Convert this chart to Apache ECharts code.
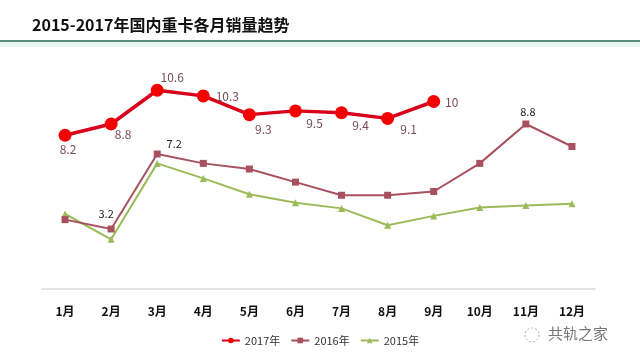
<!DOCTYPE html>
<html><head><meta charset="utf-8">
<script src="https://cdn.jsdelivr.net/npm/echarts@6/dist/echarts.min.js"></script>
<style>html,body{margin:0;padding:0;background:#fff}#c{width:640px;height:360px}</style>
</head><body><div id="c"></div>
<script>
const months = ['1月','2月','3月','4月','5月','6月','7月','8月','9月','10月','11月','12月'];
const s2017 = [8.2, 8.8, 10.6, 10.3, 9.3, 9.5, 9.4, 9.1, 10];
const s2016 = [3.7, 3.2, 7.2, 6.7, 6.4, 5.7, 5.0, 5.0, 5.2, 6.7, 8.8, 7.6];
const s2015 = [4.0, 2.65, 6.7, 5.9, 5.05, 4.6, 4.3, 3.4, 3.9, 4.35, 4.45, 4.55];
const labelOff2017 = [[3,14],[12,10],[15,-13],[24,1],[14,15],[19,13],[19,13],[21,11],[18,1]];
const labelOff2016 = {1:[-5,-15], 2:[17,-10], 10:[2,-12]};

const chart = echarts.init(document.getElementById('c'));
const font = '"Microsoft YaHei","Noto Sans CJK SC",sans-serif';

const d2017 = s2017.map((v,i)=>({value:v, label:{position:'inside', offset:labelOff2017[i]}}));
const d2016 = s2016.map((v,i)=>{
  if (!labelOff2016[i]) return {value:v, label:{show:false}};
  return {value:v, label:{show:true, position:'inside', offset:labelOff2016[i]}};
});

chart.setOption({
  animation:false,
  textStyle:{fontFamily:font},
  graphic:[
    {type:'text', left:32, top:17, style:{text:'2015-2017年国内重卡各月销量趋势', fontSize:16, fontWeight:'bold', fill:'#111', fontFamily:font}},
    {type:'rect', shape:{x:0,y:42,width:640,height:5}, style:{fill:'#eaf6f0'}},
    {type:'rect', shape:{x:0,y:40,width:640,height:2}, style:{fill:'#5e8c7c'}},
    {type:'text', left:548, top:326, style:{text:'共轨之家', fontSize:15, fill:'#777', fontFamily:font}},
    {type:'circle', shape:{cx:532, cy:335, r:7}, style:{fill:'none', stroke:'#aaa', lineWidth:1, lineDash:[2,2]}}
  ],
  legend:{
    bottom:9, left:'center', itemWidth:18, itemHeight:7, itemGap:10,
    textStyle:{fontSize:11, color:'#333', fontFamily:font},
    data:['2017年','2016年','2015年']
  },
  grid:{left:42, right:45, top:64, bottom:71},
  xAxis:{
    type:'category', data:months, boundaryGap:true,
    axisLine:{lineStyle:{color:'#d9d9d9', width:1.5}},
    axisTick:{show:false},
    axisLabel:{fontSize:12, fontWeight:'bold', color:'#111', margin:16}
  },
  yAxis:{type:'value', min:0, max:12, show:false, splitLine:{show:false}},
  series:[
    {name:'2017年', type:'line', data:d2017, symbol:'circle', symbolSize:13,
     lineStyle:{color:'#d9001b', width:3.5}, itemStyle:{color:'#f50000'},
     label:{show:true, fontSize:12, color:'#7a4a5c'}, z:5},
    {name:'2016年', type:'line', data:d2016, symbol:'rect', symbolSize:7,
     lineStyle:{color:'#a8505e', width:2}, itemStyle:{color:'#a8505e'},
     label:{fontSize:11, color:'#222'}, z:4},
    {name:'2015年', type:'line', data:s2015, symbol:'triangle', symbolSize:7,
     lineStyle:{color:'#9bbb59', width:2}, itemStyle:{color:'#9bbb59'}, z:3}
  ]
});
</script></body></html>
